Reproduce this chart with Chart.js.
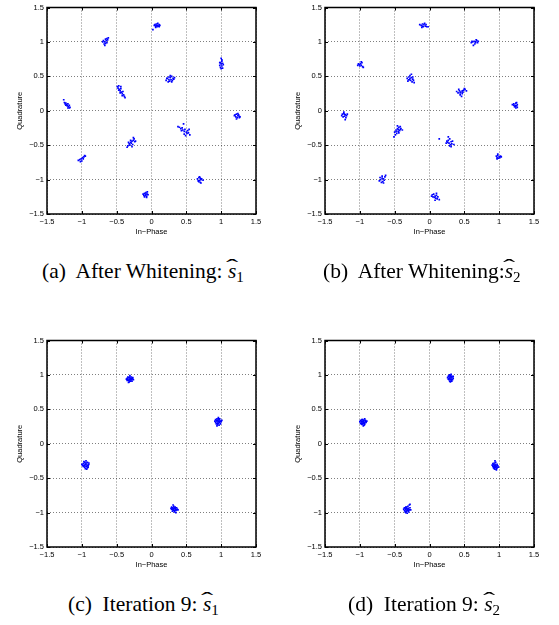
<!DOCTYPE html>
<html>
<head>
<meta charset="utf-8">
<script src="https://cdn.jsdelivr.net/npm/chart.js@4.4.0/dist/chart.umd.min.js"></script>
<style>
  body { margin: 0; background: #fff; width: 559px; height: 625px; position: relative; overflow: hidden; }
  .panel { position: absolute; width: 279px; height: 240px; }
  .caption { position: absolute; font-family: 'Liberation Serif', 'Times New Roman', serif; font-size: 21.5px; line-height: 21px; white-space: pre; color: #000; }
  .hat { position: relative; display: inline-block; font-style: italic; }
  .hat::before { content: '\02C6'; position: absolute; left: -1.5px; top: -4px; font-style: normal; transform: scaleX(1.7); transform-origin: left top; }
  .caption sub { font-size: 15px; vertical-align: -4px; line-height: 0; }
</style>
</head>
<body>
<div class="panel" style="left:0;top:0"><canvas id="chartA" width="279" height="240"></canvas></div>
<div class="panel" style="left:278px;top:0"><canvas id="chartB" width="279" height="240"></canvas></div>
<div class="panel" style="left:0;top:333px"><canvas id="chartC" width="279" height="240"></canvas></div>
<div class="panel" style="left:278px;top:333px"><canvas id="chartD" width="279" height="240"></canvas></div>

<div class="caption" style="left:42px;top:261px">(a)  After Whitening: <span class="hat">s</span><sub>1</sub></div>
<div class="caption" style="left:323px;top:261px">(b)  After Whitening:<span class="hat">s</span><sub>2</sub></div>
<div class="caption" style="left:68px;top:594px">(c)  Iteration 9: <span class="hat">s</span><sub>1</sub></div>
<div class="caption" style="left:348px;top:594px">(d)  Iteration 9: <span class="hat">s</span><sub>2</sub></div>

<script>
const tickValues = [-1.5, -1, -0.5, 0, 0.5, 1, 1.5];
const xTitle = 'In\u2212Phase';
const yTitle = 'Quadrature';

// [in-phase, quadrature] samples
const whitenedS1 = [
  [0.05,1.25],[0.07,1.26],[0.09,1.24],[0.11,1.25],[0.06,1.23],[0.08,1.22],[0.10,1.23],[0.12,1.24],[0.04,1.24],[0.07,1.24],[0.09,1.27],[0.11,1.22],[0.06,1.21],[0.02,1.18],
  [-0.69,1.02],[-0.67,1.00],[-0.64,1.05],[-0.62,1.06],[-0.66,0.98],[-0.68,0.97],[-0.70,1.00],[-0.65,1.02],[-0.63,1.03],[-0.67,0.95],[-0.66,1.04],[-0.64,0.99],
  [1.00,0.76],[1.01,0.72],[0.99,0.70],[1.02,0.69],[1.00,0.68],[0.98,0.66],[1.01,0.65],[1.03,0.67],[0.99,0.63],[1.00,0.61],[1.02,0.62],[0.98,0.70],[1.01,0.74],
  [0.21,0.44],[0.23,0.47],[0.25,0.45],[0.27,0.48],[0.29,0.50],[0.31,0.47],[0.33,0.48],[0.26,0.43],[0.28,0.45],[0.30,0.44],[0.24,0.42],[0.27,0.51],[0.32,0.46],[0.22,0.47],[0.29,0.42],[0.25,0.49],
  [-0.49,0.35],[-0.48,0.33],[-0.47,0.36],[-0.46,0.31],[-0.45,0.29],[-0.44,0.32],[-0.43,0.27],[-0.42,0.25],[-0.41,0.28],[-0.40,0.23],[-0.39,0.21],[-0.42,0.22],[-0.45,0.26],[-0.47,0.30],[-0.38,0.19],[-0.44,0.35],
  [-1.26,0.16],[-1.25,0.12],[-1.23,0.11],[-1.22,0.09],[-1.21,0.07],[-1.20,0.10],[-1.19,0.06],[-1.18,0.08],[-1.17,0.05],[-1.23,0.08],[-1.20,0.04],[-1.24,0.10],[-1.18,0.04],
  [1.20,-0.06],[1.22,-0.05],[1.24,-0.07],[1.26,-0.08],[1.21,-0.09],[1.23,-0.10],[1.25,-0.06],[1.27,-0.09],[1.22,-0.12],[1.24,-0.04],[1.19,-0.07],[1.26,-0.10],
  [0.38,-0.23],[0.40,-0.24],[0.42,-0.26],[0.44,-0.25],[0.45,-0.28],[0.47,-0.30],[0.48,-0.27],[0.50,-0.31],[0.51,-0.33],[0.53,-0.32],[0.55,-0.35],[0.49,-0.36],[0.46,-0.19],[0.43,-0.29],[0.52,-0.29],[0.47,-0.34],[0.54,-0.27],
  [-0.34,-0.51],[-0.32,-0.48],[-0.30,-0.46],[-0.28,-0.44],[-0.26,-0.43],[-0.24,-0.45],[-0.27,-0.49],[-0.31,-0.50],[-0.29,-0.47],[-0.25,-0.41],[-0.23,-0.44],[-0.33,-0.46],[-0.28,-0.52],[-0.26,-0.39],[-0.30,-0.43],[-0.35,-0.53],
  [-1.05,-0.72],[-1.03,-0.71],[-1.01,-0.70],[-1.00,-0.73],[-0.99,-0.68],[-0.97,-0.67],[-0.96,-0.65],[-0.98,-0.70],[-1.02,-0.74],[-0.95,-0.66],
  [0.66,-0.99],[0.68,-0.97],[0.70,-0.98],[0.69,-1.01],[0.71,-1.00],[0.67,-1.02],[0.70,-1.04],[0.72,-0.99],[0.68,-1.03],[0.74,-1.01],[0.69,-0.96],[0.71,-1.05],
  [-0.12,-1.21],[-0.10,-1.20],[-0.08,-1.19],[-0.06,-1.21],[-0.09,-1.23],[-0.07,-1.24],[-0.05,-1.22],[-0.10,-1.25],[-0.08,-1.21],[-0.06,-1.18],[-0.11,-1.23],[-0.07,-1.26]
];

const whitenedS2 = [
  [-0.14,1.25],[-0.12,1.24],[-0.10,1.26],[-0.08,1.25],[-0.06,1.23],[-0.04,1.22],[-0.09,1.22],[-0.11,1.21],[-0.07,1.27],[-0.05,1.25],[-0.10,1.23],[-0.02,1.22],
  [0.60,0.99],[0.62,1.00],[0.64,1.01],[0.66,0.99],[0.68,1.02],[0.70,1.01],[0.67,1.03],[0.65,0.97],[0.63,0.95],[0.69,0.99],[0.61,1.01],[0.66,1.00],
  [-1.03,0.66],[-1.01,0.67],[-0.99,0.68],[-0.97,0.70],[-0.98,0.66],[-1.00,0.65],[-0.96,0.64],[-0.95,0.63],[-1.02,0.68],[-0.98,0.71],
  [-0.32,0.47],[-0.30,0.49],[-0.28,0.51],[-0.26,0.48],[-0.24,0.46],[-0.27,0.44],[-0.29,0.45],[-0.31,0.43],[-0.25,0.42],[-0.23,0.44],[-0.28,0.47],[-0.26,0.53],[-0.22,0.41],[-0.30,0.45],[-0.24,0.49],
  [0.39,0.28],[0.41,0.26],[0.43,0.29],[0.45,0.27],[0.47,0.25],[0.49,0.30],[0.51,0.31],[0.53,0.29],[0.44,0.23],[0.46,0.21],[0.42,0.31],[0.48,0.27],[0.50,0.32],[0.44,0.26],[0.47,0.29],
  [1.19,0.09],[1.21,0.10],[1.23,0.08],[1.25,0.07],[1.24,0.11],[1.22,0.06],[1.26,0.05],[1.24,0.04],[1.21,0.08],[1.25,0.12],[1.23,0.06],[1.26,0.09],
  [-1.25,-0.05],[-1.23,-0.04],[-1.21,-0.06],[-1.19,-0.07],[-1.22,-0.08],[-1.24,-0.09],[-1.20,-0.10],[-1.23,-0.02],[-1.18,-0.05],[-1.21,-0.13],[-1.26,-0.07],[-1.22,-0.05],
  [-0.50,-0.31],[-0.48,-0.28],[-0.46,-0.26],[-0.44,-0.24],[-0.42,-0.27],[-0.45,-0.30],[-0.47,-0.33],[-0.49,-0.35],[-0.43,-0.29],[-0.41,-0.26],[-0.39,-0.28],[-0.51,-0.38],[-0.46,-0.22],[-0.48,-0.30],[-0.44,-0.32],[-0.45,-0.27],[-0.42,-0.23],
  [0.25,-0.44],[0.27,-0.43],[0.29,-0.41],[0.31,-0.45],[0.28,-0.47],[0.30,-0.49],[0.32,-0.48],[0.26,-0.46],[0.29,-0.51],[0.33,-0.44],[0.35,-0.49],[0.27,-0.38],[0.31,-0.52],[0.24,-0.47],[0.14,-0.41],
  [0.96,-0.66],[0.98,-0.65],[1.00,-0.67],[1.02,-0.66],[0.97,-0.68],[0.99,-0.69],[1.01,-0.68],[0.98,-0.63],[1.03,-0.67],[0.97,-0.70],
  [-0.72,-1.02],[-0.70,-1.00],[-0.68,-0.98],[-0.66,-0.99],[-0.64,-0.96],[-0.63,-0.94],[-0.67,-1.03],[-0.69,-1.04],[-0.65,-1.01],[-0.71,-0.97],[-0.66,-1.05],[-0.68,-0.95],
  [0.04,-1.22],[0.06,-1.21],[0.08,-1.24],[0.10,-1.23],[0.07,-1.26],[0.09,-1.27],[0.12,-1.25],[0.05,-1.25],[0.11,-1.28],[0.14,-1.29],[0.08,-1.30],[0.03,-1.24],[0.10,-1.20]
];

const iter9S1 = [
  [-0.35,0.95],[-0.34,0.93],[-0.33,0.96],[-0.32,0.94],[-0.31,0.97],[-0.30,0.95],[-0.29,0.93],[-0.28,0.94],[-0.27,0.96],[-0.30,0.91],[-0.32,0.90],[-0.33,0.92],[-0.29,0.97],[-0.31,0.99],[-0.34,0.97],[-0.26,0.93],[-0.30,0.94],[-0.32,0.96],[-0.28,0.91],[-0.33,0.89],[-0.36,0.94],[-0.29,0.95],[-0.31,0.92],[-0.27,0.95],[-0.35,0.92],
  [0.91,0.33],[0.92,0.31],[0.93,0.34],[0.94,0.32],[0.95,0.30],[0.96,0.33],[0.97,0.35],[0.98,0.31],[0.99,0.33],[1.00,0.32],[0.95,0.28],[0.97,0.27],[0.94,0.36],[0.96,0.38],[0.98,0.36],[0.93,0.29],[1.01,0.34],[0.96,0.30],[0.95,0.34],[0.97,0.32],[0.99,0.29],[0.92,0.35],[0.94,0.26],[0.98,0.33],[0.96,0.36],
  [-1.00,-0.30],[-0.98,-0.29],[-0.97,-0.32],[-0.96,-0.27],[-0.95,-0.30],[-0.94,-0.33],[-0.93,-0.28],[-0.92,-0.31],[-0.91,-0.34],[-0.90,-0.30],[-0.95,-0.36],[-0.93,-0.37],[-0.96,-0.34],[-0.94,-0.25],[-0.92,-0.27],[-0.97,-0.26],[-0.91,-0.32],[-0.94,-0.30],[-0.96,-0.31],[-0.93,-0.33],[-0.95,-0.28],[-0.98,-0.33],[-0.92,-0.35],[-0.99,-0.31],[-0.90,-0.28],
  [0.28,-0.94],[0.29,-0.95],[0.30,-0.93],[0.31,-0.96],[0.32,-0.94],[0.33,-0.97],[0.34,-0.95],[0.35,-0.93],[0.36,-0.96],[0.37,-0.95],[0.32,-0.91],[0.31,-0.89],[0.34,-0.92],[0.33,-0.99],[0.35,-1.00],[0.30,-0.98],[0.32,-0.97],[0.34,-0.94],[0.36,-0.93],[0.29,-0.92],[0.38,-0.96],[0.31,-0.94],[0.33,-0.93],[0.35,-0.97],[0.30,-0.95]
];

const iter9S2 = [
  [0.26,0.96],[0.27,0.98],[0.28,0.95],[0.29,0.97],[0.30,0.99],[0.31,0.96],[0.32,0.94],[0.33,0.97],[0.34,0.95],[0.28,0.93],[0.29,0.91],[0.31,0.92],[0.30,0.94],[0.32,0.98],[0.29,1.00],[0.31,1.01],[0.27,0.94],[0.33,0.93],[0.30,0.97],[0.28,0.99],[0.32,0.91],[0.30,0.90],[0.34,0.98],[0.29,0.95],[0.31,0.98],
  [-1.00,0.32],[-0.99,0.30],[-0.98,0.33],[-0.97,0.31],[-0.96,0.29],[-0.95,0.32],[-0.94,0.34],[-0.93,0.30],[-0.92,0.32],[-0.91,0.31],[-0.96,0.35],[-0.94,0.27],[-0.97,0.28],[-0.93,0.36],[-0.95,0.30],[-0.98,0.29],[-0.92,0.34],[-0.96,0.32],[-0.94,0.31],[-0.99,0.34],[-0.95,0.26],[-0.93,0.28],[-0.97,0.35],[-0.90,0.33],[-0.95,0.34],
  [0.90,-0.31],[0.91,-0.33],[0.92,-0.30],[0.93,-0.32],[0.94,-0.34],[0.95,-0.31],[0.96,-0.33],[0.97,-0.35],[0.98,-0.32],[0.93,-0.28],[0.95,-0.27],[0.94,-0.37],[0.96,-0.36],[0.92,-0.35],[0.97,-0.30],[0.94,-0.30],[0.95,-0.34],[0.93,-0.36],[0.91,-0.29],[0.99,-0.34],[0.94,-0.25],[0.96,-0.38],[0.92,-0.33],[0.95,-0.32],[0.93,-0.34],
  [-0.37,-0.95],[-0.36,-0.97],[-0.35,-0.94],[-0.34,-0.96],[-0.33,-0.98],[-0.32,-0.95],[-0.31,-0.97],[-0.30,-0.94],[-0.29,-0.96],[-0.28,-0.93],[-0.33,-0.92],[-0.31,-0.91],[-0.34,-1.00],[-0.32,-1.01],[-0.30,-0.99],[-0.35,-0.99],[-0.29,-0.89],[-0.28,-0.88],[-0.32,-0.97],[-0.33,-0.94],[-0.31,-0.95],[-0.36,-0.93],[-0.27,-0.96],[-0.34,-0.92],[-0.30,-0.97]
];

// box round the axes plus short inward ticks, like the matlab frame
const framePlugin = {
  id: 'frame',
  afterDraw(chart) {
    const { ctx, chartArea: a } = chart;
    const x = chart.scales.x, y = chart.scales.y;
    ctx.save();
    ctx.strokeStyle = '#000';
    ctx.lineWidth = 1;
    ctx.beginPath();
    tickValues.forEach(v => {
      const px = Math.round(x.getPixelForValue(v)) + 0.5;
      const py = Math.round(y.getPixelForValue(v)) + 0.5;
      ctx.moveTo(px, a.bottom); ctx.lineTo(px, a.bottom - 3);
      ctx.moveTo(px, a.top); ctx.lineTo(px, a.top + 3);
      ctx.moveTo(a.left, py); ctx.lineTo(a.left + 3, py);
      ctx.moveTo(a.right, py); ctx.lineTo(a.right - 3, py);
    });
    ctx.stroke();
    ctx.lineWidth = 1.5;
    ctx.strokeRect(a.left, a.top, a.right - a.left, a.bottom - a.top);
    ctx.restore();
  }
};

function fmt(v) {
  return v < 0 ? '\u2212' + Math.abs(v) : String(v);
}

function axis(isX) {
  return {
    type: 'linear',
    min: -1.5,
    max: 1.5,
    afterBuildTicks: scale => { scale.ticks = tickValues.map(v => ({ value: v })); },
    afterFit: scale => {
      if (isX) scale.height = 26; else scale.width = 47;
    },
    ticks: {
      color: '#000',
      font: { family: 'Liberation Sans', size: 7.5 },
      padding: isX ? 3.5 : 3,
      maxRotation: 0,
      autoSkip: false,
      callback: v => fmt(v)
    },
    grid: {
      color: 'rgba(0,0,0,0.5)',
      lineWidth: 1,
      drawTicks: false,
      borderDash: [1, 2]
    },
    border: { display: false, dash: [1, 2] },
    title: {
      display: true,
      text: isX ? xTitle : yTitle,
      color: '#000',
      font: { family: 'Liberation Sans', size: 7.5 },
      padding: isX ? { top: 0, bottom: 3.5 } : { top: 15.5, bottom: 0 }
    }
  };
}

function drawPanel(id, points) {
  const ctx = document.getElementById(id).getContext('2d');
  new Chart(ctx, {
    type: 'scatter',
    data: {
      datasets: [{
        data: points.map(p => ({ x: p[0], y: p[1] })),
        backgroundColor: '#0000ff',
        borderWidth: 0,
        pointRadius: 1.2,
        pointStyle: 'rect'
      }]
    },
    options: {
      responsive: false,
      animation: false,
      layout: { padding: { top: 6, right: 23, left: 0, bottom: 0 } },
      plugins: { legend: { display: false }, tooltip: { enabled: false } },
      scales: { x: axis(true), y: axis(false) }
    },
    plugins: [framePlugin]
  });
}

drawPanel('chartA', whitenedS1);
drawPanel('chartB', whitenedS2);
drawPanel('chartC', iter9S1);
drawPanel('chartD', iter9S2);
</script>
</body>
</html>
